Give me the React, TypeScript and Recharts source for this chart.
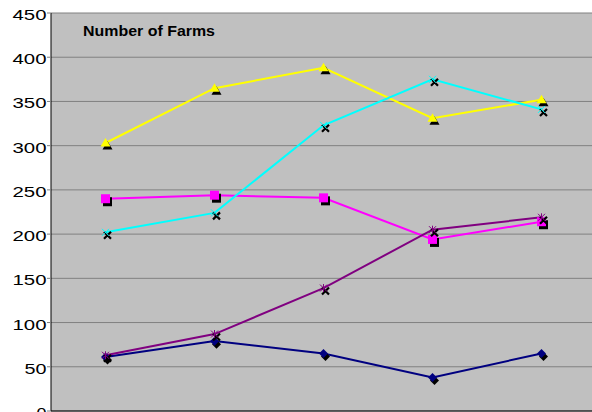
import React from "react";
import { LineChart, Line, XAxis, YAxis, CartesianGrid } from "recharts";

const categories = ["1", "2", "3", "4", "5"];
const navySeries = [61, 79, 65, 38, 65];
const magentaSeries = [240, 244, 241, 194, 214];
const yellowSeries = [303, 365, 388, 331, 352];
const cyanSeries = [202, 224, 323, 375, 341];
const purpleSeries = [63, 87, 139, 205, 219];
const yTicks = [0, 50, 100, 150, 200, 250, 300, 350, 400, 450];

const data = categories.map((c, i) => ({
  cat: c,
  navy: navySeries[i],
  magenta: magentaSeries[i],
  yellow: yellowSeries[i],
  cyan: cyanSeries[i],
  purple: purpleSeries[i],
}));

const FONT = "'Liberation Sans', Arial, sans-serif";

type Shape = "diamond" | "square" | "triangle" | "x" | "star";

function shapePath(shape: Shape, cx: number, cy: number): string {
  switch (shape) {
    case "diamond":
      return `M${cx},${cy - 4.5}L${cx + 4.5},${cy}L${cx},${cy + 4.5}L${cx - 4.5},${cy}Z`;
    case "square":
      return `M${cx - 4.5},${cy - 4.5}h9v9h-9Z`;
    case "triangle":
      return `M${cx},${cy - 5}L${cx + 5},${cy + 3.5}L${cx - 5},${cy + 3.5}Z`;
    case "x":
      return `M${cx - 3.5},${cy - 3.5}L${cx + 3.5},${cy + 3.5}M${cx + 3.5},${cy - 3.5}L${cx - 3.5},${cy + 3.5}`;
    case "star":
      return `M${cx - 3.5},${cy - 3.5}L${cx + 3.5},${cy + 3.5}M${cx + 3.5},${cy - 3.5}L${cx - 3.5},${cy + 3.5}M${cx},${cy - 4}L${cx},${cy + 4}`;
  }
}

const makeDot = (shape: Shape, color: string) => (props: any) => {
  const { cx, cy, index } = props;
  if (cx == null || cy == null) return <g key={index} />;
  const filled = shape === "diamond" || shape === "square" || shape === "triangle";
  const sx = cx + 2;
  const sy = cy + 3;
  return (
    <g key={index}>
      {filled ? (
        <path d={shapePath(shape, sx, sy)} fill="#000" stroke="none" />
      ) : (
        <path d={shapePath("x", sx, sy)} fill="none" stroke="#000" strokeWidth={2.2} />
      )}
      {filled ? (
        <path d={shapePath(shape, cx, cy)} fill={color} stroke="none" />
      ) : (
        <path d={shapePath(shape, cx, cy)} fill="none" stroke={color} strokeWidth={1} />
      )}
    </g>
  );
};

const YTick = (props: any) => {
  const { x, y, payload } = props;
  const s = String(payload.value);
  return (
    <text
      x={x + 1.5}
      y={y + 1.7}
      dy="0.355em"
      textAnchor="end"
      fontFamily={FONT}
      fontSize={15}
      fill="#000"
      textLength={s.length * 12 - 2}
      lengthAdjust="spacingAndGlyphs"
    >
      {s}
    </text>
  );
};

const seriesDefs: { key: string; color: string; shape: Shape }[] = [
  { key: "navy", color: "#000080", shape: "diamond" },
  { key: "magenta", color: "#FF00FF", shape: "square" },
  { key: "yellow", color: "#FFFF00", shape: "triangle" },
  { key: "cyan", color: "#00FFFF", shape: "x" },
  { key: "purple", color: "#800080", shape: "star" },
];

export default function App() {
  return (
    <div
      style={{
        position: "absolute",
        left: 0,
        top: 0,
        width: 592,
        height: 412,
        overflow: "hidden",
        background: "#fff",
      }}
    >
      <LineChart
        width={600}
        height={431}
        data={data}
        margin={{ top: 13, right: 4, left: 0, bottom: 0 }}
      >
        <CartesianGrid
          vertical={false}
          stroke="#808080"
          strokeWidth={1}
          fill="#C0C0C0"
          fillOpacity={1}
        />
        <XAxis
          dataKey="cat"
          tick={false}
          tickLine={false}
          height={20}
          axisLine={{ stroke: "#000" }}
          padding={{ left: 54.5, right: 54.5 }}
        />
        <YAxis
          width={51}
          domain={[0, 450]}
          ticks={yTicks}
          interval={0}
          tickSize={4}
          tickMargin={2}
          tickLine={{ stroke: "#808080" }}
          axisLine={{ stroke: "#000" }}
          tick={<YTick />}
        />
        {seriesDefs.map((s) => (
          <Line
            key={s.key + "-line"}
            dataKey={s.key}
            stroke={s.color}
            strokeWidth={2}
            dot={false}
            activeDot={false}
            isAnimationActive={false}
            type="linear"
          />
        ))}
        {seriesDefs.map((s) => (
          <Line
            key={s.key + "-dots"}
            dataKey={s.key}
            stroke="none"
            dot={makeDot(s.shape, s.color)}
            activeDot={false}
            isAnimationActive={false}
            type="linear"
          />
        ))}
      </LineChart>
      <svg
        width={592}
        height={412}
        style={{ position: "absolute", left: 0, top: 0, pointerEvents: "none" }}
      >
        <text
          x={83}
          y={35.7}
          fontFamily={FONT}
          fontWeight="bold"
          fontSize={15}
          fill="#000"
          textLength={132}
          lengthAdjust="spacingAndGlyphs"
        >
          Number of Farms
        </text>
      </svg>
    </div>
  );
}
